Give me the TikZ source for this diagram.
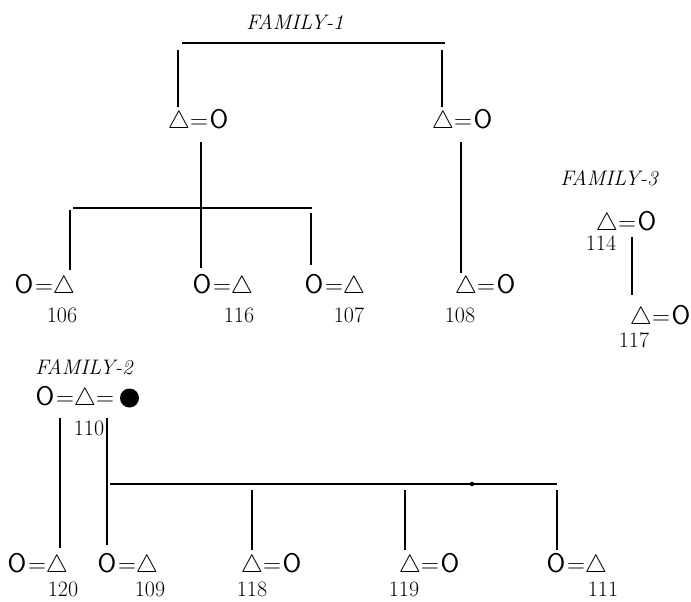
\documentclass[tikz,border=0pt]{standalone}
\usepackage{fontspec}
\newcommand\Tr{\makebox[18pt]{\fontsize{25}{26}\selectfont$\triangle$}}
\newcommand\Ci{\makebox[18pt]{\fontsize{27}{28}\selectfont\textsf{O}}}
\newcommand\Eq{\makebox[22pt]{\fontsize{23}{24}\selectfont$=$}}
\tikzset{
  sym/.style={inner sep=0pt},
  num/.style={font=\fontsize{22}{24}\selectfont, inner sep=0pt},
  fam/.style={font=\fontsize{21}{24}\selectfont\itshape\addfontfeature{LetterSpace=8}, inner sep=0pt},
  ln/.style={line width=1.2pt},
  deadnode/.style={circle, fill=black, inner sep=0pt, minimum size=19pt},
}
\begin{document}
\begin{tikzpicture}[x=1pt,y=-1pt]
\useasboundingbox[fill=white] (0,0) rectangle (691,602);
% ---------------- FAMILY-1
\node[fam] (f1) at (295,22) {FAMILY-1};
\coordinate (t1) at (182,43);
\coordinate (t2) at (445,43);
\draw[ln] (t1) -- (t2);
\node[sym] (p1) at (199,121) {\Tr\Eq\Ci};
\node[sym] (p2) at (463,121) {\Tr\Eq\Ci};
\coordinate (a1) at (178,50); \coordinate (a2) at (178,107);
\coordinate (a3) at (442,50); \coordinate (a4) at (442,107);
\draw[ln] (a1) -- (a2);
\draw[ln] (a3) -- (a4);
% children of p1
\coordinate (s1) at (201,142); \coordinate (s2) at (201,268);
\draw[ln] (s1) -- (s2);
\coordinate (bl) at (73,208); \coordinate (br) at (312,208);
\draw[ln] (bl) -- (br);
\coordinate (c1t) at (70,210); \coordinate (c1b) at (70,270);
\coordinate (c3t) at (311,213); \coordinate (c3b) at (311,265);
\draw[ln] (c1t) -- (c1b);
\draw[ln] (c3t) -- (c3b);
\node[sym] (k106) at (44,286) {\Ci\Eq\Tr};
\node[sym] (k116) at (222,286) {\Ci\Eq\Tr};
\node[sym] (k107) at (334,286) {\Ci\Eq\Tr};
\node[num] (n106) at (62,315) {106};
\node[num] (n116) at (239,315) {116};
\node[num] (n107) at (349,315) {107};
% child of p2
\coordinate (r1) at (461,142); \coordinate (r2) at (461,273);
\draw[ln] (r1) -- (r2);
\node[sym] (k108) at (486,286) {\Tr\Eq\Ci};
\node[num] (n108) at (460,315) {108};
% ---------------- FAMILY-3
\node[fam] (f3) at (609,178) {FAMILY-3};
\node[sym] (k114) at (627,223) {\Tr\Eq\Ci};
\node[num] (n114) at (601,243) {114};
\coordinate (g1) at (632,237); \coordinate (g2) at (632,295);
\draw[ln] (g1) -- (g2);
\node[sym] (k117) at (661,317) {\Tr\Eq\Ci};
\node[num] (n117) at (634,340) {117};
% ---------------- FAMILY-2
\node[fam] (f2) at (84,367) {FAMILY-2};
\node[sym] (k110) at (76,398) {\Ci\Eq\Tr\Eq};
\node[deadnode] (dead) at (129.5,398) {};
\node[num] (n110) at (89,428) {110};
\coordinate (h1) at (60,418); \coordinate (h2) at (60,548);
\draw[ln] (h1) -- (h2);
\coordinate (h3) at (107,418); \coordinate (h4) at (107,545);
\draw[ln] (h3) -- (h4);
\coordinate (m1) at (110,484); \coordinate (m2) at (557,484);
\draw[ln] (m1) -- (m2);
\fill (472,484) circle (2.2pt);
\coordinate (d1t) at (252,490); \coordinate (d1b) at (252,550);
\coordinate (d2t) at (405,490); \coordinate (d2b) at (405,550);
\coordinate (d3t) at (557,490); \coordinate (d3b) at (557,550);
\draw[ln] (d1t) -- (d1b);
\draw[ln] (d2t) -- (d2b);
\draw[ln] (d3t) -- (d3b);
\node[sym] (k120) at (37,565) {\Ci\Eq\Tr};
\node[sym] (k109) at (127,565) {\Ci\Eq\Tr};
\node[sym] (k118) at (272,565) {\Tr\Eq\Ci};
\node[sym] (k119) at (430,565) {\Tr\Eq\Ci};
\node[sym] (k111) at (576,565) {\Ci\Eq\Tr};
\node[num] (n120) at (63,589) {120};
\node[num] (n109) at (150,589) {109};
\node[num] (n118) at (252,589) {118};
\node[num] (n119) at (404,589) {119};
\node[num] (n111) at (603,589) {111};
\end{tikzpicture}
\end{document}
